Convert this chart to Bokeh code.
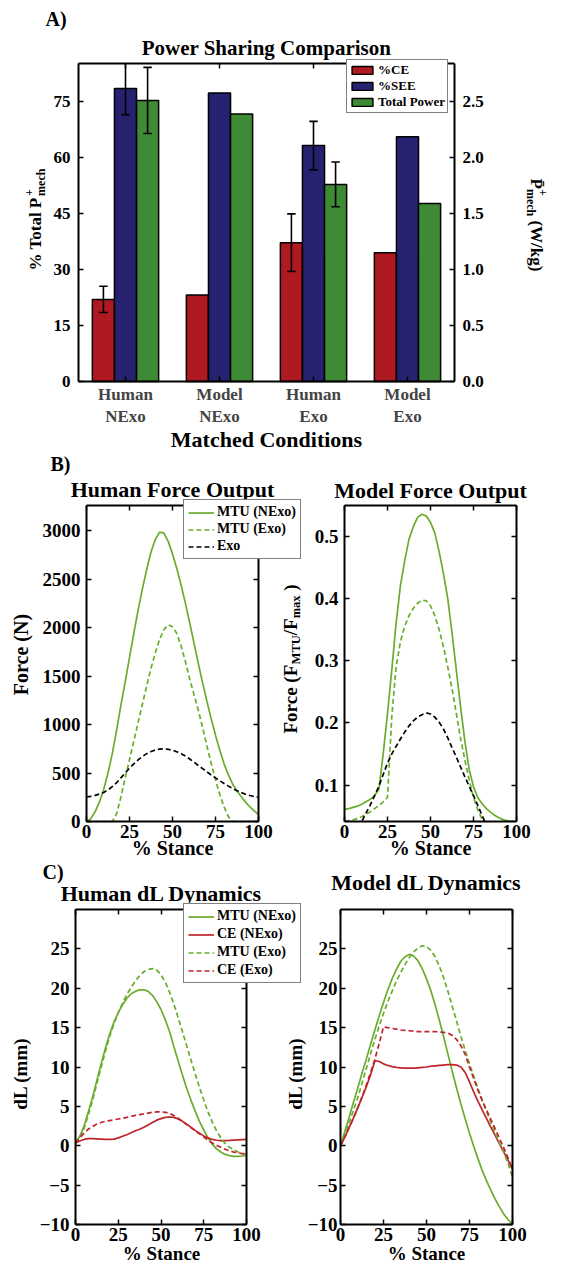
import math
from bokeh.plotting import figure
from bokeh.models import (Range1d, LinearAxis, FixedTicker, Label, Legend, LegendItem,
                          PrintfTickFormatter)
from bokeh.layouts import column, row
from bokeh.embed import file_html
from bokeh.resources import INLINE

FONT = "Liberation Serif"

# ---------------- Panel A data ----------------
cond_line1 = ["Human", "Model", "Human", "Model"]
cond_line2 = ["NExo", "NExo", "Exo", "Exo"]
cond_pos = [1, 2, 3, 4]
ce_pct = [22.0, 23.2, 37.2, 34.5]
ce_err = [3.5, 0.0, 7.7, 0.0]
see_pct = [78.5, 77.3, 63.2, 65.6]
see_err = [7.0, 0.0, 6.5, 0.0]
total_power = [2.51, 2.39, 1.76, 1.59]
total_power_err = [0.295, 0.0, 0.20, 0.0]
pct_ticks = [0, 15, 30, 45, 60, 75]
power_ticks = [0.0, 0.5, 1.0, 1.5, 2.0, 2.5]

# ---------------- Panels B / C data ----------------
stance = [0, 2.5, 5, 7.5, 10, 12.5, 15, 17.5, 20, 22.5, 25, 27.5, 30, 32.5, 35, 37.5, 40,
          42.5, 45, 47.5, 50, 52.5, 55, 57.5, 60, 62.5, 65, 67.5, 70, 72.5, 75, 77.5, 80,
          82.5, 85, 87.5, 90, 92.5, 95, 97.5, 100]
stance_ticks = [0, 25, 50, 75, 100]

human_force_mtu_nexo = [0, 30, 100, 200, 330, 500, 700, 940, 1200, 1440, 1690, 1940, 2180, 2400,
                        2600, 2780, 2910, 2985, 2975, 2890, 2760, 2610, 2440, 2250, 2050, 1840,
                        1630, 1430, 1240, 1060, 890, 735, 595, 480, 385, 315, 255, 200, 150, 110, 70]
human_force_mtu_exo = [0, 0, 0, 0, 0, 0, 0, 80, 250, 450, 640, 830, 1020, 1210, 1400, 1580, 1740,
                       1880, 1980, 2030, 2010, 1940, 1810, 1650, 1470, 1310, 1150, 970, 780, 600,
                       430, 280, 150, 50, 0, 0, 0, 0, 0, 0, 0]
human_force_exo = [255, 260, 270, 283, 300, 325, 360, 400, 450, 500, 550, 595, 635, 670, 700, 722,
                   738, 747, 750, 745, 735, 720, 700, 675, 645, 612, 578, 545, 512, 480, 450, 420,
                   392, 365, 340, 318, 298, 281, 268, 258, 250]
human_force_ticks = [0, 500, 1000, 1500, 2000, 2500, 3000]

model_force_mtu_nexo = [0.061, 0.062, 0.064, 0.066, 0.069, 0.073, 0.077, 0.083, 0.093, 0.15, 0.215,
                        0.285, 0.36, 0.42, 0.46, 0.495, 0.515, 0.53, 0.535, 0.532, 0.522, 0.505,
                        0.475, 0.44, 0.40, 0.345, 0.285, 0.225, 0.17, 0.125, 0.097, 0.08, 0.07,
                        0.062, 0.056, 0.051, 0.047, 0.044, 0.0425, 0.042, 0.0415]
model_force_mtu_exo = [0.042, 0.043, 0.044, 0.046, 0.049, 0.053, 0.057, 0.062, 0.067, 0.073, 0.080,
                       0.21, 0.29, 0.33, 0.355, 0.372, 0.384, 0.392, 0.397, 0.396, 0.388, 0.372,
                       0.35, 0.322, 0.29, 0.255, 0.215, 0.175, 0.14, 0.108, 0.08, 0.06, 0.045,
                       0.036, 0.03, 0.025, 0.022, 0.02, 0.019, 0.018, 0.018]
model_force_exo = [0.0, 0.01, 0.02, 0.03, 0.041, 0.055, 0.068, 0.083, 0.098, 0.117, 0.135, 0.15,
                   0.162, 0.174, 0.185, 0.195, 0.203, 0.209, 0.213, 0.216, 0.214, 0.209, 0.201,
                   0.19, 0.176, 0.16, 0.145, 0.129, 0.113, 0.098, 0.083, 0.067, 0.051, 0.036,
                   0.025, 0.015, 0.008, 0.004, 0.002, 0.001, 0.0]
model_force_ticks = [0.1, 0.2, 0.3, 0.4, 0.5]

human_dl_mtu_nexo = [0.3, 1.2, 2.5, 4.3, 6.2, 8.3, 10.4, 12.4, 14.2, 15.7, 16.9, 17.9, 18.7, 19.3,
                     19.6, 19.8, 19.8, 19.6, 19.1, 18.3, 17.3, 16.0, 14.5, 12.6, 10.8, 9.0, 7.3,
                     5.8, 4.4, 3.1, 2.0, 1.0, 0.2, -0.4, -0.8, -1.1, -1.25, -1.35, -1.35, -1.3, -1.2]
human_dl_ce_nexo = [0.35, 0.6, 0.8, 0.9, 0.9, 0.88, 0.85, 0.8, 0.8, 0.85, 1.0, 1.2, 1.4, 1.65, 1.9,
                    2.1, 2.35, 2.65, 2.95, 3.25, 3.45, 3.6, 3.65, 3.6, 3.4, 3.1, 2.75, 2.35, 1.95,
                    1.6, 1.25, 1.0, 0.8, 0.7, 0.65, 0.65, 0.68, 0.72, 0.75, 0.78, 0.8]
human_dl_mtu_exo = [0.3, 1.0, 2.2, 3.9, 5.8, 7.9, 10.0, 12.0, 13.9, 15.5, 16.9, 18.1, 19.2, 20.1,
                    20.9, 21.6, 22.1, 22.4, 22.5, 22.3, 21.7, 20.8, 19.5, 18.0, 16.3, 14.5, 12.7,
                    10.9, 9.1, 7.4, 5.8, 4.3, 3.0, 1.9, 1.0, 0.3, -0.2, -0.5, -0.8, -0.95, -1.05]
human_dl_ce_exo = [0.35, 1.0, 1.6, 2.1, 2.45, 2.75, 2.95, 3.1, 3.2, 3.3, 3.4, 3.5, 3.6, 3.75, 3.85,
                   3.95, 4.05, 4.15, 4.25, 4.3, 4.3, 4.25, 4.1, 3.85, 3.5, 3.1, 2.7, 2.3, 1.9, 1.5,
                   1.1, 0.7, 0.35, 0.05, -0.2, -0.45, -0.65, -0.8, -0.9, -1.0, -1.05]

model_dl_mtu_nexo = [0, 1.8, 3.6, 5.5, 7.3, 9.2, 11.0, 12.9, 14.7, 16.5, 18.2, 19.8, 21.2, 22.4,
                     23.4, 24.0, 24.3, 24.1, 23.5, 22.5, 21.2, 19.7, 17.9, 15.9, 13.8, 11.6, 9.4,
                     7.3, 5.3, 3.4, 1.6, -0.1, -1.7, -3.2, -4.5, -5.7, -6.8, -7.8, -8.7, -9.4, -10.0]
model_dl_ce_nexo = [0, 1.1, 2.3, 3.5, 4.8, 6.1, 7.5, 9.0, 10.8, 10.7, 10.4, 10.2, 10.05, 9.95, 9.9,
                    9.85, 9.85, 9.85, 9.9, 9.95, 10.0, 10.1, 10.15, 10.2, 10.25, 10.3, 10.3, 10.25,
                    10.0, 9.3, 8.1, 6.8, 5.6, 4.5, 3.4, 2.3, 1.3, 0.2, -0.8, -1.9, -3.0]
model_dl_mtu_exo = [0, 1.4, 2.9, 4.5, 6.1, 7.9, 9.8, 11.7, 13.5, 15.2, 16.8, 18.3, 19.6, 20.9,
                    22.0, 23.0, 23.9, 24.6, 25.1, 25.4, 25.3, 24.8, 24.0, 22.8, 21.3, 19.6, 17.7,
                    15.8, 13.9, 12.1, 10.4, 8.8, 7.2, 5.7, 4.3, 2.9, 1.6, 0.3, -0.9, -2.3, -4.0]
model_dl_ce_exo = [0, 1.1, 2.3, 3.5, 4.8, 6.2, 7.7, 9.3, 11.0, 13.0, 15.1, 15.0, 14.9, 14.8, 14.7,
                   14.65, 14.6, 14.55, 14.5, 14.5, 14.5, 14.5, 14.5, 14.45, 14.4, 14.3, 14.0, 13.5,
                   12.7, 11.6, 10.0, 8.5, 7.0, 5.7, 4.5, 3.3, 2.1, 0.9, -0.3, -1.6, -3.0]
dl_ticks = [-10, -5, 0, 5, 10, 15, 20, 25]

# ---------------- styling ----------------
RED_BAR, BLUE_BAR, GREEN_BAR = "#ae1a20", "#26226f", "#3f8a35"
GREEN_LINE, RED_LINE = "#6aac2c", "#c0242b"
DASH = "5 3"
LW = 1.7
MID = 0.3375  # distance (em) from baseline to the middle of the font box

# char advance widths (Times bold, per 1000 em) for composing rich labels
W_TNR = {" ": 250, "%": 1000, "(": 333, ")": 333, "/": 278, "+": 570, "T": 667, "o": 500,
         "t": 333, "a": 500, "l": 278, "P": 611, "m": 833, "e": 444, "c": 444, "h": 556,
         "W": 1000, "k": 556, "g": 500, "F": 611, "r": 444, "M": 944, "U": 722, "x": 500,
         "\u0304": 0}


def tw(s, size):
    return sum(W_TNR.get(ch, 500) for ch in s) * size / 1000.0


def full_ranges(g):
    """Extend the data ranges so that the axes box sits where the panel's box is on the page,
    while the plotting frame spans the whole canvas (so texts around the box are not clipped)."""
    W, H = g["W"], g["H"]
    l, t = g["fl"], g["ft"]
    r, b = l + g["fw"], t + g["fh"]
    x0, x1 = g["xr"]
    y0, y1 = g["yr"]
    sx = (x1 - x0) / (r - l)
    sy = (y1 - y0) / (b - t)
    return (x0 - l * sx, x1 + (W - r) * sx), (y0 - (H - b) * sy, y1 + t * sy)


def make_fig(g):
    (X0, X1), (Y0, Y1) = full_ranges(g)
    p = figure(width=g["W"], height=g["H"], title=None,
               x_range=Range1d(X0, X1), y_range=Range1d(Y0, Y1),
               min_border_left=0, min_border_right=0, min_border_top=0, min_border_bottom=0,
               output_backend="svg", toolbar_location=None,
               background_fill_color="white", border_fill_color="white")
    p.grid.visible = False
    p.outline_line_color = None
    return p


def style_axis(ax, ticks, size, labels=True, standoff=6):
    ax.ticker = FixedTicker(ticks=ticks)
    ax.axis_line_width = 2
    ax.axis_line_color = "black"
    ax.major_tick_in = 5
    ax.major_tick_out = 0
    ax.major_tick_line_width = 1.5
    ax.major_tick_line_color = "black"
    ax.minor_tick_line_color = None
    ax.major_label_standoff = standoff
    ax.major_label_text_font = FONT
    ax.major_label_text_font_style = "bold"
    ax.major_label_text_font_size = f"{size}px"
    ax.major_label_text_color = "black" if labels else None


def box_axes(p, g, xt, yt, size, xlabels=True, y_std=6, x_std=3):
    x0, x1 = g["xr"]
    y0, y1 = g["yr"]
    ax = p.xaxis[0]
    ax.fixed_location = y0
    ax.bounds = (x0, x1)
    style_axis(ax, xt, size, labels=xlabels, standoff=x_std)
    ay = p.yaxis[0]
    ay.fixed_location = x0
    ay.bounds = (y0, y1)
    style_axis(ay, yt, size, standoff=y_std)
    a_top = LinearAxis(fixed_location=y1, bounds=(x0, x1))
    style_axis(a_top, xt, size, labels=False)
    p.add_layout(a_top, "above")
    return x0, x1, y0, y1


def to_data(g, px, py):
    # page pixel -> data coordinates of figure g
    ox, oy = g["origin"]
    l = ox + g["fl"]
    r = l + g["fw"]
    t = oy + g["ft"]
    b = t + g["fh"]
    x0, x1 = g["xr"]
    y0, y1 = g["yr"]
    x = x0 + (px - l) / (r - l) * (x1 - x0)
    y = y0 + (b - py) / (b - t) * (y1 - y0)
    return x, y


def add_text(p, g, px, py, text, size, angle=0.0, align="left"):
    """(px, py): page position of the text's vertical middle (left / centre / right per align)."""
    x, y = to_data(g, px, py)
    p.add_layout(Label(x=x, y=y, text=text, text_font=FONT, text_font_size=f"{size}px",
                       text_font_style="bold", text_color="black", text_align=align,
                       text_baseline="middle", angle=angle))


def add_rich_vertical(p, g, base_x, start_y, pieces, direction):
    """Vertical label assembled from pieces (text, size, shift, advance); base_x is the
    page x of the main baseline, shift > 0 lowers a piece (subscript).
    direction +1: text runs up the page (CCW), -1: runs down (CW)."""
    y = start_y
    ang = math.pi / 2 if direction == 1 else -math.pi / 2
    for text, size, shift, advance in pieces:
        lead = len(text) - len(text.lstrip(" "))
        if lead:
            y -= direction * tw(" " * lead, size)
            text = text.lstrip(" ")
        down = shift - MID * size
        px = base_x + down if direction == 1 else base_x - down
        add_text(p, g, px, y, text, size, angle=ang)
        if advance:
            y -= direction * tw(text, size)


def legend_loc(g, px_left, py_bottom):
    ox, oy = g["origin"]
    return (px_left - ox, oy + g["H"] - py_bottom)


def style_legend(lg, size, glyph_h, label_h, spacing, padding):
    lg.label_text_font = FONT
    lg.label_text_font_style = "bold"
    lg.label_text_font_size = f"{size}px"
    lg.label_text_color = "black"
    lg.glyph_width = 26
    lg.glyph_height = glyph_h
    lg.label_height = label_h
    lg.label_standoff = 3
    lg.spacing = spacing
    lg.padding = padding
    lg.margin = 0
    lg.border_line_color = "black"
    lg.border_line_width = 1.5
    lg.background_fill_color = "white"
    lg.background_fill_alpha = 1.0


# ---------------- geometry (page pixels) ----------------
ROW_B, ROW_C = 451, 859   # page y where the B and C rows begin
SPLIT_B, SPLIT_C = 308, 306  # page x where the right-hand panels' canvases begin
gA = dict(origin=(0, 0), W=562, H=ROW_B, fl=78, ft=63, fw=376, fh=318, xr=(0.5, 4.5), yr=(0, 85.2))
gBL = dict(origin=(0, ROW_B), W=SPLIT_B, H=ROW_C - ROW_B, fl=86, ft=505 - ROW_B, fw=172, fh=316,
           xr=(0, 100), yr=(0, 3260))
gBR = dict(origin=(SPLIT_B, ROW_B), W=562 - SPLIT_B, H=ROW_C - ROW_B, fl=344 - SPLIT_B,
           ft=505 - ROW_B, fw=172, fh=316, xr=(0, 100), yr=(0.0414, 0.549))
gCL = dict(origin=(0, ROW_C), W=SPLIT_C, H=1266 - ROW_C, fl=75, ft=909 - ROW_C, fw=171, fh=315,
           xr=(0, 100), yr=(-10, 30))
gCR = dict(origin=(SPLIT_C, ROW_C), W=562 - SPLIT_C, H=1266 - ROW_C, fl=340 - SPLIT_C,
           ft=909 - ROW_C, fw=172, fh=315, xr=(0, 100), yr=(-10, 30))

# ================= Panel A =================
pA = make_fig(gA)
POWER_SCALE = 30.0
(AX0, AX1), (AY0, AY1) = full_ranges(gA)
pA.extra_y_ranges = {"power": Range1d(AY0 / POWER_SCALE, AY1 / POWER_SCALE)}
ax0, ax1, ay0, ay1 = box_axes(pA, gA, cond_pos, pct_ticks, 17, xlabels=False, y_std=8)
ax_right = LinearAxis(y_range_name="power", fixed_location=ax1,
                      bounds=(ay0 / POWER_SCALE, ay1 / POWER_SCALE),
                      formatter=PrintfTickFormatter(format="%.1f"))
style_axis(ax_right, power_ticks, 17, standoff=8)
pA.add_layout(ax_right, "right")

BW = 0.235
xs_ce = [c - BW for c in cond_pos]
xs_see = list(cond_pos)
xs_pow = [c + BW for c in cond_pos]
r_ce = pA.vbar(x=xs_ce, top=ce_pct, width=BW, fill_color=RED_BAR, line_color="black", line_width=1.5)
r_see = pA.vbar(x=xs_see, top=see_pct, width=BW, fill_color=BLUE_BAR, line_color="black", line_width=1.5)
r_pow = pA.vbar(x=xs_pow, top=total_power, width=BW, fill_color=GREEN_BAR, line_color="black",
                line_width=1.5, y_range_name="power")

CAP = 0.045


def error_bars(p, xs, vals, errs, range_name="default"):
    x0, y0, x1, y1 = [], [], [], []
    for x, v, e in zip(xs, vals, errs):
        if e <= 0:
            continue
        lo, hi = v - e, v + e
        x0 += [x, x - CAP, x - CAP]
        x1 += [x, x + CAP, x + CAP]
        y0 += [lo, lo, hi]
        y1 += [hi, lo, hi]
    p.segment(x0=x0, y0=y0, x1=x1, y1=y1, line_color="black", line_width=1.6,
              y_range_name=range_name)


error_bars(pA, xs_ce, ce_pct, ce_err)
error_bars(pA, xs_see, see_pct, see_err)
error_bars(pA, xs_pow, total_power, total_power_err, "power")
# thin white band just above the axes box: clips the error bar at the box top, as in the original
_, band_top = to_data(gA, 0, 59)
pA.quad(left=AX0, right=AX1, bottom=ay1, top=band_top, fill_color="white", line_color=None)

legA = Legend(items=[LegendItem(label="%CE", renderers=[r_ce]),
                     LegendItem(label="%SEE", renderers=[r_see]),
                     LegendItem(label="Total Power", renderers=[r_pow])],
              location=legend_loc(gA, 346, 113))
style_legend(legA, 13, 10, 14, 0, 2)
pA.add_layout(legA)

add_text(pA, gA, 45, 18, "A)", 20)
add_text(pA, gA, 266, 47, "Power Sharing Comparison", 21, align="center")
_, y_line1 = to_data(gA, 0, 394)
_, y_line2 = to_data(gA, 0, 416)
for c, l1, l2 in zip(cond_pos, cond_line1, cond_line2):
    pA.add_layout(Label(x=c, y=y_line1, text=l1, text_font=FONT, text_font_size="17px",
                        text_font_style="bold", text_align="center", text_baseline="middle"))
    pA.add_layout(Label(x=c, y=y_line2, text=l2, text_font=FONT, text_font_size="17px",
                        text_font_style="bold", text_align="center", text_baseline="middle"))
add_text(pA, gA, 266, 438.5, "Matched Conditions", 22, align="center")
# left y label: % Total P^+_mech
add_rich_vertical(pA, gA, 41, 270, [("% Total P", 17, 0, True), ("+", 12, -8, False),
                                     ("mech", 12, 4, True)], 1)
# right y label: Pbar^+_mech (W/kg)
add_rich_vertical(pA, gA, 530, 178, [("P\u0304", 17, 0, True), ("+", 12, -8, False),
                                      ("mech", 12, 4, True), (" (W/kg)", 17, 0, True)], -1)


# ================= Panel B =================
def line_fig(g, yt, size, y_std=6):
    p = make_fig(g)
    x0, x1, y0, y1 = box_axes(p, g, stance_ticks, yt, size, y_std=y_std)
    a_right = LinearAxis(fixed_location=x1, bounds=(y0, y1))
    style_axis(a_right, yt, size, labels=False)
    p.add_layout(a_right, "right")
    return p


pBL = line_fig(gBL, human_force_ticks, 19)
b1 = pBL.line(stance, human_force_mtu_nexo, line_color=GREEN_LINE, line_width=LW)
b2 = pBL.line(stance, human_force_mtu_exo, line_color=GREEN_LINE, line_width=LW, line_dash=DASH)
b3 = pBL.line(stance, human_force_exo, line_color="black", line_width=LW, line_dash=DASH)
legB = Legend(items=[LegendItem(label="MTU (NExo)", renderers=[b1]),
                     LegendItem(label="MTU (Exo)", renderers=[b2]),
                     LegendItem(label="Exo", renderers=[b3])],
              location=legend_loc(gBL, 183, 559))
style_legend(legB, 14, 15, 15, 1, 4)
pBL.add_layout(legB)
add_text(pBL, gBL, 50, 463, "B)", 20)
add_text(pBL, gBL, 172, 489, "Human Force Output", 22, align="center")
add_text(pBL, gBL, 20.5, 654, "Force (N)", 20, angle=math.pi / 2, align="center")
add_text(pBL, gBL, 172, 847.5, "% Stance", 20, align="center")
# y label of the right-hand force panel (lies in the gap between the two panels)
add_rich_vertical(pBL, gBL, 296, 733, [("Force (F", 19, 0, True), ("MTU", 12.5, 4, True),
                                        ("/F", 19, 0, True), ("max", 12.5, 4, True),
                                        (" )", 19, 0, True)], 1)

pBR = line_fig(gBR, model_force_ticks, 19)
pBR.line(stance, model_force_mtu_nexo, line_color=GREEN_LINE, line_width=LW)
pBR.line(stance, model_force_mtu_exo, line_color=GREEN_LINE, line_width=LW, line_dash=DASH)
pBR.line(stance, model_force_exo, line_color="black", line_width=LW, line_dash=DASH)
# white mask below the axes box (curves leave the visible range there)
(BX0, BX1), (BY0, BY1) = full_ranges(gBR)
pBR.quad(left=BX0, right=BX1, bottom=BY0, top=gBR["yr"][0], fill_color="white", line_color=None)
add_text(pBR, gBR, 430, 490, "Model Force Output", 22, align="center")
add_text(pBR, gBR, 430, 847.5, "% Stance", 20, align="center")

# ================= Panel C =================
pCL = line_fig(gCL, dl_ticks, 19)
c1 = pCL.line(stance, human_dl_mtu_nexo, line_color=GREEN_LINE, line_width=LW)
c2 = pCL.line(stance, human_dl_ce_nexo, line_color=RED_LINE, line_width=LW)
c3 = pCL.line(stance, human_dl_mtu_exo, line_color=GREEN_LINE, line_width=LW, line_dash=DASH)
c4 = pCL.line(stance, human_dl_ce_exo, line_color=RED_LINE, line_width=LW, line_dash=DASH)
legC = Legend(items=[LegendItem(label="MTU (NExo)", renderers=[c1]),
                     LegendItem(label="CE (NExo)", renderers=[c2]),
                     LegendItem(label="MTU (Exo)", renderers=[c3]),
                     LegendItem(label="CE (Exo)", renderers=[c4])],
              location=legend_loc(gCL, 183, 983))
style_legend(legC, 14, 15, 15, 2, 4)
pCL.add_layout(legC)
add_text(pCL, gCL, 42, 871, "C)", 20)
add_text(pCL, gCL, 161, 893, "Human dL Dynamics", 22, align="center")
add_text(pCL, gCL, 20, 1073, "dL (mm)", 19, angle=math.pi / 2, align="center")
add_text(pCL, gCL, 161, 1253, "% Stance", 19, align="center")
add_text(pCL, gCL, 294.5, 1073, "dL (mm)", 19, angle=math.pi / 2, align="center")

pCR = line_fig(gCR, dl_ticks, 19, y_std=3)
pCR.line(stance, model_dl_mtu_nexo, line_color=GREEN_LINE, line_width=LW)
pCR.line(stance, model_dl_ce_nexo, line_color=RED_LINE, line_width=LW)
pCR.line(stance, model_dl_mtu_exo, line_color=GREEN_LINE, line_width=LW, line_dash=DASH)
pCR.line(stance, model_dl_ce_exo, line_color=RED_LINE, line_width=LW, line_dash=DASH)
add_text(pCR, gCR, 426, 882, "Model dL Dynamics", 22, align="center")
add_text(pCR, gCR, 426, 1253, "% Stance", 19, align="center")

layout = column(pA, row(pBL, pBR), row(pCL, pCR))
open("out.html", "w").write(file_html(layout, INLINE))
